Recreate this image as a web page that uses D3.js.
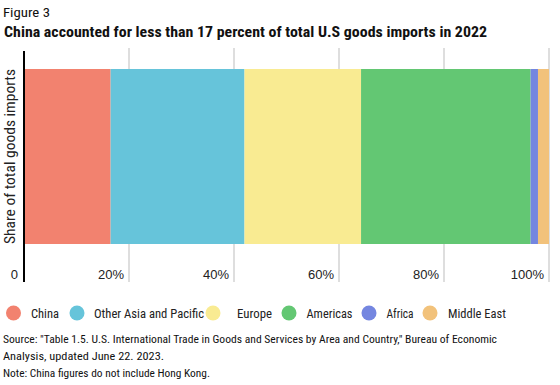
<!DOCTYPE html>
<html>
<head>
<meta charset="utf-8">
<script src="https://cdn.jsdelivr.net/npm/d3@7"></script>
<style>
  html, body { margin: 0; padding: 0; background: #fff; }
  svg { display: block; font-family: "Roboto Condensed", "Liberation Sans Narrow", Roboto, sans-serif; }
</style>
</head>
<body>
<div id="chart"></div>
<script>
(function () {
    // regions, in stacking order
    const regions = ["China", "Other Asia and Pacific", "Europe", "Americas", "Africa", "Middle East"];
    // share of total U.S. goods imports, 2022 (%)
    const shares = [16.5, 25.5, 22.2, 32.3, 1.4, 2.1];
    const colors = ["#f2826f", "#66c4da", "#f9eb92", "#63c773", "#7486e0", "#f2c27b"];
    const tickValues = [0, 20, 40, 60, 80, 100];
    const tickLabels = ["0", "20%", "40%", "60%", "80%", "100%"];

    const width = 560;
    const height = 385;
    const margin = { left: 24, right: 11, top: 51, bottom: 103 };

    const svg = d3.select("#chart")
        .append("svg")
        .attr("width", width)
        .attr("height", height);

    svg.append("text")
        .attr("x", 3)
        .attr("y", 17)
        .attr("font-size", 13.5)
        .attr("fill", "#111")
        .attr("textLength", 47)
        .attr("lengthAdjust", "spacingAndGlyphs")
        .text("Figure 3");

    svg.append("text")
        .attr("x", 4)
        .attr("y", 37)
        .attr("font-size", 15)
        .attr("font-weight", 700)
        .attr("fill", "#111")
        .attr("textLength", 483)
        .attr("lengthAdjust", "spacingAndGlyphs")
        .text("China accounted for less than 17 percent of total U.S goods imports in 2022");

    const x = d3.scaleLinear()
        .domain([0, 100])
        .range([margin.left, width - margin.right]);

    const y = d3.scaleBand()
        .domain(["Share of total goods imports"])
        .range([margin.top + 18, height - margin.bottom - 38])
        .padding(0);

    const gridBottom = height - margin.bottom;

    // gridlines
    svg.append("g")
        .selectAll("line")
        .data(tickValues.slice(1))
        .join("line")
        .attr("x1", d => x(d))
        .attr("x2", d => x(d))
        .attr("y1", margin.top - 3)
        .attr("y2", gridBottom)
        .attr("stroke", "#bdbdbd")
        .attr("stroke-width", 1);

    // stacked segments
    let acc = 0;
    const segs = shares.map((v, i) => {
        const s = { name: regions[i], x0: acc, x1: acc + v, color: colors[i] };
        acc += v;
        return s;
    });

    svg.append("g")
        .selectAll("rect")
        .data(segs)
        .join("rect")
        .attr("x", d => x(d.x0))
        .attr("width", d => x(d.x1) - x(d.x0))
        .attr("y", y("Share of total goods imports"))
        .attr("height", y.bandwidth())
        .attr("fill", d => d.color);

    // tick labels
    svg.append("g")
        .selectAll("text")
        .data(tickValues)
        .join("text")
        .attr("x", d => x(d) - (d === 0 ? 6 : 5))
        .attr("y", gridBottom - 3)
        .attr("text-anchor", "end")
        .attr("font-family", "'Liberation Sans', sans-serif")
        .attr("font-size", 13)
        .attr("fill", "#222")
        .text((d, i) => tickLabels[i]);

    // y axis line
    svg.append("line")
        .attr("x1", margin.left)
        .attr("x2", margin.left)
        .attr("y1", margin.top)
        .attr("y2", gridBottom)
        .attr("stroke", "#000")
        .attr("stroke-width", 2);

    svg.append("text")
        .attr("transform", `translate(15,${y("Share of total goods imports") + y.bandwidth() / 2}) rotate(-90)`)
        .attr("text-anchor", "middle")
        .attr("font-size", 13.8)
        .attr("fill", "#222")
        .attr("textLength", 175)
        .attr("lengthAdjust", "spacingAndGlyphs")
        .text("Share of total goods imports");

    // legend
    const legendX = [13.5, 77, 213, 289, 369, 430];
    const legendTextDx = [17.5, 17, 24, 17.5, 17.5, 18];
    const legendTextW = [28, 110, 35, 46, 27, 58];
    const legend = svg.append("g")
        .selectAll("g")
        .data(regions)
        .join("g")
        .attr("transform", (d, i) => `translate(${legendX[i]},313)`);

    legend.append("circle")
        .attr("r", 7.5)
        .attr("fill", (d, i) => colors[i]);

    legend.append("text")
        .attr("x", (d, i) => legendTextDx[i])
        .attr("y", 4.5)
        .attr("font-size", 13)
        .attr("fill", "#222")
        .attr("textLength", (d, i) => legendTextW[i])
        .attr("lengthAdjust", "spacingAndGlyphs")
        .text(d => d);

    const notes = [
        "Source: \"Table 1.5. U.S. International Trade in Goods and Services by Area and Country,\" Bureau of Economic",
        "Analysis, updated June 22. 2023.",
        "Note: China figures do not include Hong Kong."
    ];
    const noteW = [494, 161, 207];
    svg.append("g")
        .selectAll("text")
        .data(notes)
        .join("text")
        .attr("x", 3)
        .attr("y", (d, i) => 343 + i * 17)
        .attr("font-size", 11.6)
        .attr("fill", "#111")
        .attr("textLength", (d, i) => noteW[i])
        .attr("lengthAdjust", "spacingAndGlyphs")
        .text(d => d);
})();
</script>
</body>
</html>
